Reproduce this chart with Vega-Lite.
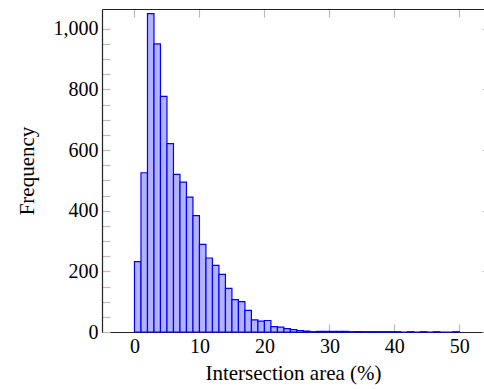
{
  "$schema": "https://vega.github.io/schema/vega-lite/v6.json",
  "autosize": {"type": "none"},
  "width": 382,
  "height": 323,
  "padding": {"left": 102, "top": 9, "right": 0, "bottom": 57},
  "background": "white",
  "config": {
    "view": {"stroke": null},
    "font": "Liberation Serif",
    "axis": {
      "labelFont": "Liberation Serif",
      "titleFont": "Liberation Serif",
      "labelFontSize": 20,
      "titleFontSize": 21,
      "titleFontWeight": "normal",
      "labelColor": "#000",
      "titleColor": "#000",
      "domain": true,
      "domainColor": "#222",
      "domainWidth": 1.2,
      "grid": false,
      "tickColor": "#bbb",
      "tickWidth": 1.2,
      "tickSize": -8
    }
  },
  "data": {
    "values": [
      {"lo": 0, "hi": 1, "count": 232},
      {"lo": 1, "hi": 2, "count": 525},
      {"lo": 2, "hi": 3, "count": 1050},
      {"lo": 3, "hi": 4, "count": 950},
      {"lo": 4, "hi": 5, "count": 777},
      {"lo": 5, "hi": 6, "count": 621},
      {"lo": 6, "hi": 7, "count": 520},
      {"lo": 7, "hi": 8, "count": 494},
      {"lo": 8, "hi": 9, "count": 445},
      {"lo": 9, "hi": 10, "count": 384},
      {"lo": 10, "hi": 11, "count": 289},
      {"lo": 11, "hi": 12, "count": 244},
      {"lo": 12, "hi": 13, "count": 220},
      {"lo": 13, "hi": 14, "count": 190},
      {"lo": 14, "hi": 15, "count": 144},
      {"lo": 15, "hi": 16, "count": 107},
      {"lo": 16, "hi": 17, "count": 100},
      {"lo": 17, "hi": 18, "count": 71},
      {"lo": 18, "hi": 19, "count": 40},
      {"lo": 19, "hi": 20, "count": 36},
      {"lo": 20, "hi": 21, "count": 38},
      {"lo": 21, "hi": 22, "count": 18},
      {"lo": 22, "hi": 23, "count": 16},
      {"lo": 23, "hi": 24, "count": 11},
      {"lo": 24, "hi": 25, "count": 8},
      {"lo": 25, "hi": 26, "count": 5},
      {"lo": 26, "hi": 27, "count": 3},
      {"lo": 27, "hi": 28, "count": 1},
      {"lo": 28, "hi": 29, "count": 2},
      {"lo": 29, "hi": 30, "count": 2},
      {"lo": 30, "hi": 31, "count": 2},
      {"lo": 31, "hi": 32, "count": 2},
      {"lo": 32, "hi": 33, "count": 2},
      {"lo": 33, "hi": 34, "count": 1},
      {"lo": 34, "hi": 35, "count": 1},
      {"lo": 35, "hi": 36, "count": 1},
      {"lo": 36, "hi": 37, "count": 1},
      {"lo": 37, "hi": 38, "count": 1},
      {"lo": 38, "hi": 39, "count": 1},
      {"lo": 39, "hi": 40, "count": 1},
      {"lo": 40, "hi": 41, "count": 1},
      {"lo": 41, "hi": 42, "count": 0},
      {"lo": 42, "hi": 43, "count": 1},
      {"lo": 43, "hi": 44, "count": 0},
      {"lo": 44, "hi": 45, "count": 1},
      {"lo": 45, "hi": 46, "count": 0},
      {"lo": 46, "hi": 47, "count": 1},
      {"lo": 47, "hi": 48, "count": 0},
      {"lo": 48, "hi": 49, "count": 0},
      {"lo": 49, "hi": 50, "count": 1}
    ]
  },
  "encoding": {
    "x": {"field": "lo", "type": "quantitative", "scale": {"domain": [-5, 53.8], "nice": false, "zero": false}},
    "x2": {"field": "hi"},
    "y": {"field": "count", "type": "quantitative", "scale": {"domain": [0, 1065], "nice": false}}
  },
  "layer": [
    {
      "mark": {"type": "rect", "fill": "#b3b3ff", "stroke": "#0000ff", "strokeWidth": 1.2},
      "encoding": {
        "x": {"field": "lo", "type": "quantitative",
          "axis": {"orient": "bottom", "values": [0, 10, 20, 30, 40, 50], "title": "Intersection area (%)", "labelPadding": 12, "titlePadding": 6}},
        "y": {"field": "count", "type": "quantitative",
          "axis": {"orient": "left", "values": [0, 50, 100, 150, 200, 250, 300, 350, 400, 450, 500, 550, 600, 650, 700, 750, 800, 850, 900, 950, 1000],
            "labelExpr": "datum.value % 200 === 0 ? format(datum.value, ',') : ''", "title": "Frequency", "labelPadding": 12, "titlePadding": 16}}
      }
    },
    {
      "mark": {"type": "rect", "opacity": 0},
      "encoding": {
        "x": {"field": "lo", "type": "quantitative",
          "axis": {"orient": "top", "values": [0, 10, 20, 30, 40, 50], "labels": false, "title": null}},
        "y": {"field": "count", "type": "quantitative",
          "axis": {"orient": "right", "domain": false, "tickSize": -2, "values": [0, 200, 400, 600, 800, 1000], "labels": false, "title": null}}
      }
    }
  ],
  "resolve": {"axis": {"x": "independent", "y": "independent"}}
}
